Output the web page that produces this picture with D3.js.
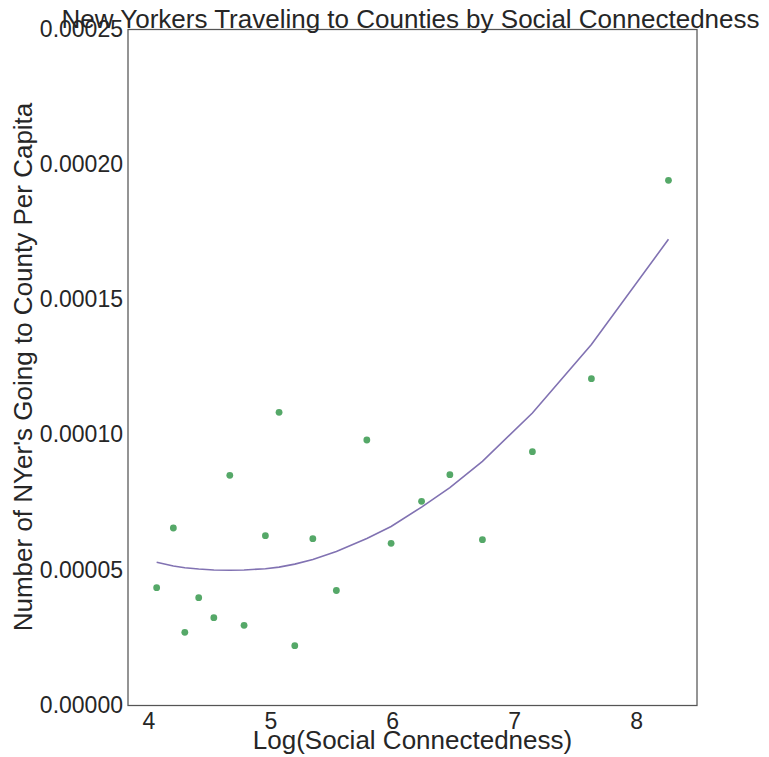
<!DOCTYPE html>
<html>
<head>
<meta charset="utf-8">
<script src="https://cdn.jsdelivr.net/npm/d3@7"></script>
<style>
  html, body { margin: 0; padding: 0; background: #ffffff; }
  svg { display: block; }
  text { font-family: "Liberation Sans", Arial, Helvetica, sans-serif; fill: #262626; }
</style>
</head>
<body>
<svg id="chart" width="769" height="757"></svg>
<script>
// Log of social connectedness for each county
const logSci = [4.068, 4.205, 4.299, 4.413, 4.537, 4.668, 4.785, 4.960, 5.072, 5.201,
                5.349, 5.542, 5.792, 5.991, 6.241, 6.473, 6.740, 7.150, 7.634, 8.266];
// New Yorkers travelling to each county, per capita
const tripsPerCapita = [4.338e-5, 6.545e-5, 2.688e-5, 3.968e-5, 3.228e-5, 8.494e-5, 2.947e-5, 6.261e-5, 1.0824e-4, 2.193e-5,
                        6.150e-5, 4.234e-5, 9.800e-5, 5.980e-5, 7.533e-5, 8.517e-5, 6.113e-5, 9.367e-5, 1.2067e-4, 1.9404e-4];
// Quadratic trend evaluated at each county
const trend = [5.277e-5, 5.140e-5, 5.077e-5, 5.029e-5, 4.992e-5, 4.981e-5, 4.992e-5, 5.040e-5, 5.100e-5, 5.210e-5,
               5.380e-5, 5.680e-5, 6.160e-5, 6.600e-5, 7.320e-5, 8.040e-5, 9.010e-5, 1.0800e-4, 1.3330e-4, 1.7222e-4];
const xTicks = [4, 5, 6, 7, 8];
const yTicks = [0, 0.00005, 0.00010, 0.00015, 0.00020, 0.00025];

const title = "New Yorkers Traveling to Counties by Social Connectedness";
const xLabel = "Log(Social Connectedness)";
const yLabel = "Number of NYer's Going to County Per Capita";

const svg = d3.select("#chart");
const plot = { left: 128, right: 697, top: 29, bottom: 705 };

const x = d3.scaleLinear().domain([3.833, 8.50]).range([plot.left, plot.right]);
const y = d3.scaleLinear().domain([0, 0.00025]).range([plot.bottom, plot.top]);

// axes without tick marks or domain lines; the frame is drawn separately
const xAxis = svg.append("g")
  .attr("transform", `translate(0,${plot.bottom})`)
  .call(d3.axisBottom(x).tickValues(xTicks).tickSize(0).tickPadding(8).tickFormat(d3.format("d")));
xAxis.select(".domain").remove();
xAxis.selectAll("text").attr("font-size", "23px").attr("fill", "#262626")
  .attr("font-family", "'Liberation Sans', Arial, sans-serif");

const yAxis = svg.append("g")
  .attr("transform", `translate(${plot.left},0)`)
  .call(d3.axisLeft(y).tickValues(yTicks).tickSize(0).tickPadding(5).tickFormat(d3.format(".5f")));
yAxis.select(".domain").remove();
yAxis.selectAll("text").attr("font-size", "23px").attr("fill", "#262626")
  .attr("font-family", "'Liberation Sans', Arial, sans-serif");

// trend line
const pts = logSci.map((v, i) => [v, tripsPerCapita[i], trend[i]]);
svg.append("path")
  .datum(pts)
  .attr("fill", "none")
  .attr("stroke", "#8172b2")
  .attr("stroke-width", 1.6)
  .attr("d", d3.line().x(d => x(d[0])).y(d => y(d[2])));

// county points
svg.append("g").selectAll("circle")
  .data(pts)
  .join("circle")
  .attr("cx", d => x(d[0]))
  .attr("cy", d => y(d[1]))
  .attr("r", 3.4)
  .attr("fill", "#55a868");

// frame
svg.append("rect")
  .attr("x", plot.left).attr("y", plot.top + 0.5)
  .attr("width", plot.right - plot.left).attr("height", plot.bottom - plot.top)
  .attr("fill", "none")
  .attr("stroke", "#555")
  .attr("stroke-width", 1.25);

// labels
svg.append("text")
  .attr("x", (plot.left + plot.right) / 2 - 2)
  .attr("y", 28)
  .attr("text-anchor", "middle")
  .attr("font-size", "26px")
  .text(title);

svg.append("text")
  .attr("x", (plot.left + plot.right) / 2)
  .attr("y", 749)
  .attr("text-anchor", "middle")
  .attr("font-size", "26px")
  .text(xLabel);

svg.append("text")
  .attr("transform", `translate(32,${(plot.top + plot.bottom) / 2}) rotate(-90)`)
  .attr("text-anchor", "middle")
  .attr("font-size", "26px")
  .text(yLabel);
</script>
</body>
</html>
